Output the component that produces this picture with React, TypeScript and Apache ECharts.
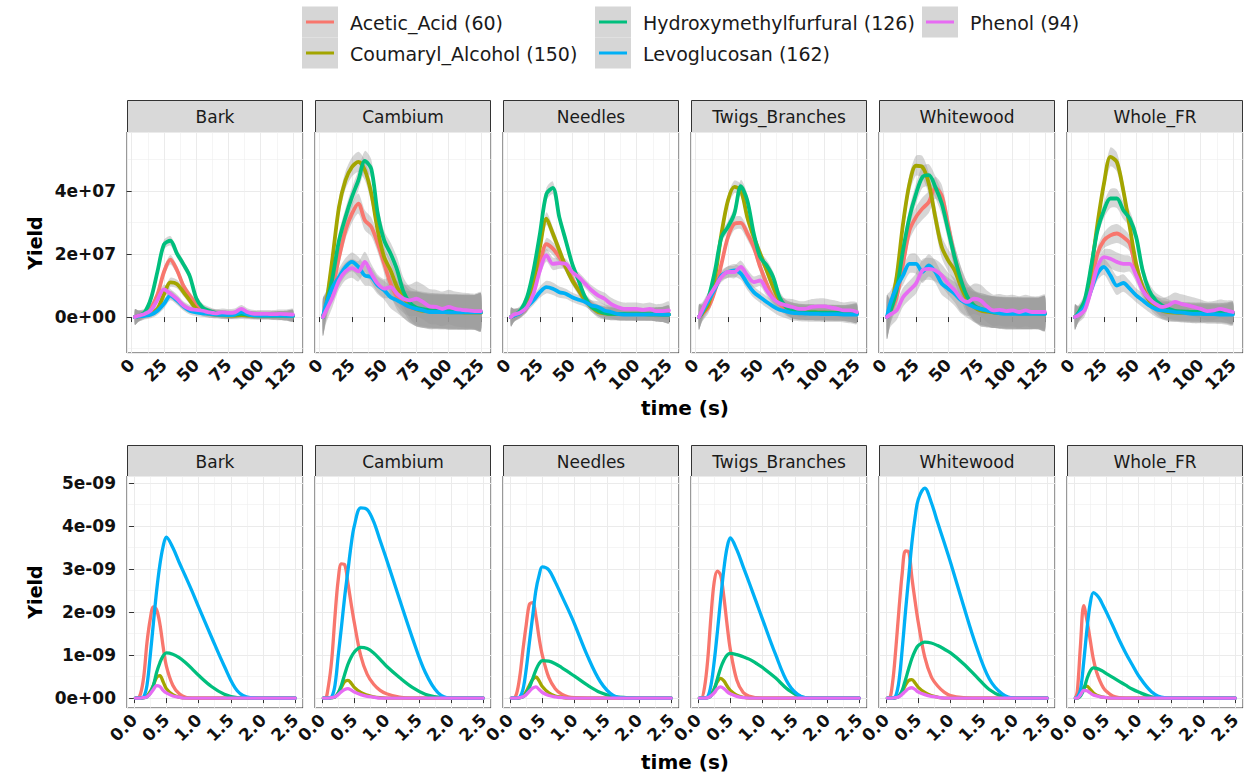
import React, { useEffect, useRef } from 'react';
import * as echarts from 'echarts';

// ---------- categories ----------
const COMPOUNDS = ['Acetic_Acid (60)', 'Coumaryl_Alcohol (150)', 'Hydroxymethylfurfural (126)', 'Levoglucosan (162)', 'Phenol (94)'];
const COLORS = ['#F8766D', '#A3A500', '#00BF7D', '#00B0F6', '#E76BF3'];
const TISSUES = ['Bark', 'Cambium', 'Needles', 'Twigs_Branches', 'Whitewood', 'Whole_FR'];

// ---------- top row: smoothed yields (units of 1e7), rows follow COMPOUNDS ----------
const TOP_UNIT = 1e7;
const TOP_TIME = [2.5, 5, 10, 15, 20, 25, 30, 35, 40, 45, 50, 55, 60, 65, 70, 75, 80, 85, 90, 95, 100, 105, 110, 115, 120, 125];

const TOP_BARK = [
  [0, 0.03, 0.1, 0.3, 0.72, 1.43, 1.82, 1.5, 1.0, 0.68, 0.42, 0.26, 0.16, 0.12, 0.1, 0.08, 0.08, 0.1, 0.08, 0.07, 0.06, 0.06, 0.05, 0.05, 0.05, 0.05],
  [0, 0.02, 0.06, 0.12, 0.26, 0.72, 1.1, 1.05, 0.8, 0.53, 0.27, 0.15, 0.1, 0.08, 0.06, 0.05, 0.05, 0.06, 0.05, 0.04, 0.04, 0.04, 0.04, 0.04, 0.03, 0.03],
  [0, 0.03, 0.15, 0.6, 1.45, 2.3, 2.42, 2.02, 1.68, 1.3, 0.6, 0.3, 0.2, 0.13, 0.1, 0.08, 0.08, 0.1, 0.08, 0.06, 0.05, 0.05, 0.05, 0.05, 0.05, 0.04],
  [0, 0.02, 0.04, 0.08, 0.2, 0.42, 0.68, 0.53, 0.34, 0.2, 0.15, 0.12, 0.1, 0.08, 0.07, 0.06, 0.08, 0.16, 0.08, 0.05, 0.05, 0.05, 0.05, 0.05, 0.04, 0.04],
  [0, 0.04, 0.1, 0.22, 0.55, 0.88, 0.74, 0.58, 0.37, 0.26, 0.23, 0.2, 0.15, 0.12, 0.15, 0.13, 0.15, 0.26, 0.15, 0.1, 0.1, 0.1, 0.09, 0.1, 0.09, 0.08],
];
const TOP_BARK_SE = [0.25, 0.18, 0.12, 0.12, 0.13, 0.15, 0.15, 0.14, 0.13, 0.12, 0.12, 0.12, 0.12, 0.12, 0.12, 0.12, 0.12, 0.12, 0.12, 0.12, 0.12, 0.12, 0.13, 0.14, 0.15, 0.18];

const TOP_CAMBIUM = [
  [0, 0.3, 0.95, 1.9, 2.75, 3.28, 3.6, 3.07, 2.86, 2.33, 1.69, 1.06, 0.63, 0.42, 0.3, 0.25, 0.22, 0.2, 0.2, 0.18, 0.18, 0.17, 0.16, 0.16, 0.15, 0.15],
  [0, 0.4, 1.9, 3.5, 4.34, 4.76, 4.92, 4.66, 3.92, 2.75, 1.9, 1.48, 0.95, 0.63, 0.35, 0.25, 0.2, 0.18, 0.17, 0.16, 0.15, 0.15, 0.15, 0.14, 0.14, 0.14],
  [0, 0.35, 1.27, 2.43, 3.17, 3.81, 4.34, 4.95, 4.7, 3.28, 2.43, 2.01, 1.5, 0.8, 0.45, 0.3, 0.25, 0.22, 0.2, 0.2, 0.18, 0.18, 0.17, 0.17, 0.16, 0.16],
  [0, 0.42, 0.95, 1.27, 1.59, 1.75, 1.59, 1.32, 1.27, 1.0, 0.85, 0.63, 0.53, 0.42, 0.32, 0.26, 0.21, 0.16, 0.16, 0.16, 0.15, 0.15, 0.15, 0.15, 0.15, 0.15],
  [0, 0.21, 0.63, 1.16, 1.45, 1.55, 1.45, 1.75, 1.38, 1.06, 0.9, 0.95, 0.74, 0.58, 0.53, 0.58, 0.48, 0.34, 0.32, 0.26, 0.32, 0.26, 0.23, 0.21, 0.19, 0.19],
];
const TOP_CAMBIUM_SE = [0.6, 0.4, 0.3, 0.28, 0.28, 0.3, 0.32, 0.32, 0.3, 0.28, 0.3, 0.35, 0.4, 0.45, 0.5, 0.55, 0.55, 0.55, 0.55, 0.55, 0.55, 0.55, 0.55, 0.55, 0.55, 0.6];

const TOP_NEEDLES = [
  [0, 0.05, 0.12, 0.32, 0.85, 1.69, 2.31, 2.17, 1.9, 1.59, 1.22, 0.85, 0.58, 0.37, 0.21, 0.15, 0.12, 0.1, 0.1, 0.1, 0.09, 0.09, 0.09, 0.09, 0.09, 0.09],
  [0, 0.05, 0.15, 0.42, 1.06, 2.22, 3.12, 2.65, 2.12, 1.59, 1.16, 0.85, 0.53, 0.32, 0.16, 0.12, 0.1, 0.1, 0.09, 0.09, 0.09, 0.09, 0.08, 0.08, 0.08, 0.08],
  [0, 0.05, 0.21, 0.63, 1.48, 2.65, 3.9, 4.1, 3.17, 2.43, 1.69, 1.16, 0.63, 0.32, 0.21, 0.13, 0.1, 0.1, 0.1, 0.09, 0.09, 0.09, 0.09, 0.09, 0.08, 0.08],
  [0, 0.05, 0.13, 0.32, 0.53, 0.79, 0.95, 0.9, 0.79, 0.74, 0.63, 0.55, 0.48, 0.37, 0.32, 0.21, 0.16, 0.1, 0.08, 0.08, 0.08, 0.08, 0.08, 0.08, 0.08, 0.08],
  [0, 0.08, 0.15, 0.32, 0.74, 1.48, 1.96, 1.69, 1.71, 1.69, 1.43, 1.27, 1.06, 0.85, 0.69, 0.58, 0.42, 0.32, 0.26, 0.26, 0.26, 0.23, 0.26, 0.19, 0.19, 0.21],
];
const TOP_NEEDLES_SE = [0.3, 0.2, 0.15, 0.15, 0.15, 0.18, 0.2, 0.2, 0.18, 0.16, 0.15, 0.15, 0.15, 0.16, 0.18, 0.2, 0.2, 0.2, 0.2, 0.2, 0.2, 0.2, 0.2, 0.22, 0.24, 0.28];

const TOP_TWIGS = [
  [0, 0.1, 0.32, 0.85, 1.69, 2.54, 2.96, 2.99, 2.65, 2.22, 1.59, 1.06, 0.63, 0.42, 0.26, 0.2, 0.17, 0.16, 0.16, 0.15, 0.15, 0.14, 0.14, 0.13, 0.13, 0.12],
  [0, 0.12, 0.42, 1.27, 2.65, 3.7, 4.13, 4.02, 3.17, 2.54, 2.01, 1.48, 0.95, 0.53, 0.32, 0.21, 0.17, 0.15, 0.15, 0.14, 0.14, 0.13, 0.13, 0.12, 0.12, 0.12],
  [0, 0.15, 0.63, 1.48, 2.54, 2.86, 3.28, 4.15, 3.7, 2.65, 1.9, 1.64, 1.27, 0.63, 0.32, 0.21, 0.16, 0.15, 0.15, 0.14, 0.14, 0.14, 0.13, 0.13, 0.12, 0.12],
  [0, 0.16, 0.53, 0.9, 1.32, 1.43, 1.48, 1.38, 1.06, 0.79, 0.63, 0.48, 0.34, 0.23, 0.18, 0.13, 0.12, 0.11, 0.1, 0.1, 0.09, 0.09, 0.09, 0.08, 0.08, 0.08],
  [0, 0.21, 0.63, 0.95, 1.27, 1.43, 1.43, 1.59, 1.32, 1.11, 1.16, 0.85, 0.58, 0.44, 0.37, 0.32, 0.26, 0.26, 0.32, 0.34, 0.34, 0.3, 0.26, 0.21, 0.21, 0.16],
];
const TOP_TWIGS_SE = [0.4, 0.25, 0.18, 0.16, 0.16, 0.18, 0.2, 0.2, 0.2, 0.18, 0.18, 0.18, 0.18, 0.2, 0.22, 0.25, 0.25, 0.25, 0.25, 0.25, 0.25, 0.25, 0.25, 0.25, 0.28, 0.3];

const TOP_WHITEWOOD = [
  [0, 0.16, 0.63, 1.69, 2.75, 3.17, 3.44, 3.65, 4.1, 3.85, 2.9, 1.9, 1.16, 0.63, 0.37, 0.21, 0.18, 0.16, 0.15, 0.14, 0.13, 0.13, 0.12, 0.12, 0.12, 0.12],
  [0, 0.2, 1.27, 2.96, 4.23, 4.8, 4.76, 4.23, 3.17, 2.22, 1.8, 1.48, 0.95, 0.53, 0.32, 0.21, 0.17, 0.15, 0.14, 0.13, 0.13, 0.12, 0.12, 0.12, 0.11, 0.11],
  [0, 0.16, 0.85, 2.12, 3.17, 3.9, 4.44, 4.5, 4.13, 3.6, 2.75, 1.9, 1.16, 0.63, 0.37, 0.26, 0.21, 0.15, 0.14, 0.13, 0.13, 0.12, 0.12, 0.12, 0.12, 0.11],
  [0, 0.42, 0.95, 1.32, 1.69, 1.69, 1.43, 1.64, 1.43, 1.06, 0.9, 0.74, 0.53, 0.42, 0.32, 0.26, 0.21, 0.16, 0.12, 0.1, 0.1, 0.1, 0.1, 0.1, 0.1, 0.1],
  [0, 0.08, 0.21, 0.63, 0.85, 1.06, 1.48, 1.53, 1.48, 1.32, 1.06, 0.85, 0.58, 0.48, 0.58, 0.53, 0.34, 0.21, 0.23, 0.19, 0.21, 0.16, 0.21, 0.16, 0.16, 0.16],
];
const TOP_WHITEWOOD_SE = [0.7, 0.4, 0.3, 0.3, 0.3, 0.32, 0.35, 0.35, 0.35, 0.35, 0.35, 0.38, 0.42, 0.45, 0.48, 0.5, 0.5, 0.5, 0.5, 0.5, 0.5, 0.5, 0.5, 0.5, 0.5, 0.55];

const TOP_WHOLE = [
  [0, 0.08, 0.32, 1.06, 2.01, 2.43, 2.59, 2.65, 2.54, 2.33, 1.48, 0.95, 0.63, 0.42, 0.26, 0.2, 0.18, 0.17, 0.16, 0.15, 0.15, 0.14, 0.14, 0.14, 0.13, 0.13],
  [0, 0.1, 0.42, 1.48, 2.96, 4.23, 5.08, 4.92, 4.02, 2.86, 1.69, 0.95, 0.53, 0.32, 0.21, 0.16, 0.14, 0.13, 0.13, 0.12, 0.12, 0.12, 0.12, 0.11, 0.11, 0.11],
  [0, 0.12, 0.53, 1.59, 2.75, 3.39, 3.76, 3.76, 3.39, 3.12, 2.54, 1.48, 0.85, 0.53, 0.37, 0.26, 0.2, 0.18, 0.17, 0.16, 0.16, 0.15, 0.15, 0.15, 0.14, 0.14],
  [0, 0.08, 0.32, 0.85, 1.38, 1.59, 1.32, 1.0, 1.08, 0.9, 0.69, 0.53, 0.37, 0.26, 0.21, 0.19, 0.16, 0.14, 0.12, 0.1, 0.1, 0.09, 0.09, 0.08, 0.08, 0.08],
  [0, 0.05, 0.21, 0.85, 1.59, 1.9, 1.85, 1.75, 1.69, 1.69, 1.32, 0.85, 0.58, 0.42, 0.32, 0.37, 0.48, 0.42, 0.37, 0.32, 0.26, 0.19, 0.21, 0.26, 0.21, 0.16],
];
const TOP_WHOLE_SE = [0.4, 0.25, 0.2, 0.2, 0.22, 0.25, 0.3, 0.3, 0.28, 0.25, 0.22, 0.22, 0.22, 0.25, 0.28, 0.3, 0.3, 0.3, 0.3, 0.3, 0.3, 0.3, 0.3, 0.3, 0.32, 0.35];

// ---------- bottom row: modelled yields (units of 1e-9), rows follow COMPOUNDS ----------
const BOT_UNIT = 1e-9;
const BOT_TIME = [0.02, 0.05, 0.1, 0.15, 0.2, 0.25, 0.3, 0.35, 0.4, 0.45, 0.5, 0.6, 0.7, 0.8, 0.9, 1.0, 1.2, 1.4, 1.6, 1.8, 2.0, 2.2, 2.5];

const BOT_BARK = [
  [0, 0, 0.1, 0.5, 1.29, 1.83, 2.12, 2.05, 1.72, 1.2, 0.75, 0.3, 0.1, 0.02, 0, 0, 0, 0, 0, 0, 0, 0, 0],
  [0, 0, 0, 0.01, 0.05, 0.15, 0.3, 0.48, 0.52, 0.38, 0.22, 0.08, 0.02, 0, 0, 0, 0, 0, 0, 0, 0, 0, 0],
  [0, 0, 0, 0.01, 0.03, 0.12, 0.3, 0.6, 0.82, 0.98, 1.05, 1.02, 0.94, 0.82, 0.68, 0.53, 0.27, 0.09, 0.01, 0, 0, 0, 0],
  [0, 0, 0, 0.03, 0.3, 0.98, 1.75, 2.5, 3.1, 3.52, 3.74, 3.5, 3.15, 2.82, 2.48, 2.12, 1.42, 0.74, 0.17, 0.01, 0, 0, 0],
  [0, 0, 0, 0.01, 0.03, 0.1, 0.2, 0.29, 0.27, 0.18, 0.12, 0.05, 0.02, 0, 0, 0, 0, 0, 0, 0, 0, 0, 0],
];
const BOT_CAMBIUM = [
  [0, 0, 0.3, 0.9, 1.9, 2.75, 3.12, 3.1, 2.68, 2.2, 1.75, 0.98, 0.55, 0.32, 0.18, 0.1, 0.02, 0, 0, 0, 0, 0, 0],
  [0, 0, 0, 0.01, 0.03, 0.12, 0.25, 0.38, 0.41, 0.35, 0.25, 0.13, 0.07, 0.03, 0.01, 0, 0, 0, 0, 0, 0, 0, 0],
  [0, 0, 0, 0.01, 0.03, 0.12, 0.3, 0.55, 0.78, 0.95, 1.07, 1.18, 1.15, 1.05, 0.9, 0.74, 0.48, 0.25, 0.09, 0.02, 0, 0, 0],
  [0, 0, 0, 0.03, 0.3, 0.98, 1.65, 2.35, 2.95, 3.55, 4.0, 4.42, 4.38, 4.1, 3.66, 3.22, 2.3, 1.4, 0.6, 0.12, 0, 0, 0],
  [0, 0, 0, 0.01, 0.03, 0.08, 0.15, 0.2, 0.22, 0.19, 0.14, 0.08, 0.04, 0.02, 0, 0, 0, 0, 0, 0, 0, 0, 0],
];
const BOT_NEEDLES = [
  [0, 0, 0.1, 0.5, 1.13, 1.7, 2.18, 2.22, 1.9, 1.4, 1.0, 0.48, 0.22, 0.09, 0.03, 0.01, 0, 0, 0, 0, 0, 0, 0],
  [0, 0, 0, 0.01, 0.05, 0.15, 0.3, 0.43, 0.49, 0.4, 0.27, 0.12, 0.05, 0.02, 0, 0, 0, 0, 0, 0, 0, 0, 0],
  [0, 0, 0, 0.01, 0.03, 0.1, 0.25, 0.45, 0.65, 0.8, 0.87, 0.86, 0.8, 0.71, 0.61, 0.51, 0.3, 0.13, 0.04, 0.01, 0, 0, 0],
  [0, 0, 0, 0.02, 0.2, 0.67, 1.3, 1.9, 2.5, 2.85, 3.05, 2.98, 2.7, 2.38, 2.06, 1.72, 0.98, 0.38, 0.06, 0, 0, 0, 0],
  [0, 0, 0, 0.01, 0.03, 0.08, 0.16, 0.23, 0.26, 0.2, 0.13, 0.06, 0.03, 0.01, 0, 0, 0, 0, 0, 0, 0, 0, 0],
];
const BOT_TWIGS = [
  [0, 0, 0.25, 0.9, 1.9, 2.7, 2.95, 2.85, 2.35, 1.7, 1.13, 0.42, 0.13, 0.04, 0.01, 0, 0, 0, 0, 0, 0, 0, 0],
  [0, 0, 0, 0.02, 0.08, 0.22, 0.38, 0.46, 0.4, 0.28, 0.18, 0.07, 0.02, 0, 0, 0, 0, 0, 0, 0, 0, 0, 0],
  [0, 0, 0, 0.01, 0.05, 0.2, 0.45, 0.7, 0.88, 1.0, 1.04, 1.01, 0.96, 0.9, 0.81, 0.71, 0.47, 0.19, 0.03, 0, 0, 0, 0],
  [0, 0, 0, 0.03, 0.3, 0.85, 1.55, 2.3, 3.0, 3.5, 3.72, 3.45, 3.05, 2.65, 2.24, 1.83, 1.02, 0.33, 0.04, 0, 0, 0, 0],
  [0, 0, 0, 0.01, 0.05, 0.12, 0.22, 0.26, 0.22, 0.15, 0.1, 0.04, 0.01, 0, 0, 0, 0, 0, 0, 0, 0, 0, 0],
];
const BOT_WHITEWOOD = [
  [0, 0, 0.35, 1.13, 2.06, 2.9, 3.42, 3.4, 2.8, 2.25, 1.75, 0.95, 0.5, 0.28, 0.14, 0.06, 0.01, 0, 0, 0, 0, 0, 0],
  [0, 0, 0, 0.01, 0.05, 0.15, 0.3, 0.41, 0.43, 0.35, 0.25, 0.13, 0.06, 0.02, 0, 0, 0, 0, 0, 0, 0, 0, 0],
  [0, 0, 0, 0.01, 0.05, 0.18, 0.42, 0.68, 0.92, 1.1, 1.22, 1.3, 1.28, 1.22, 1.14, 1.05, 0.8, 0.5, 0.2, 0.04, 0, 0, 0],
  [0, 0, 0, 0.05, 0.4, 1.13, 2.0, 2.8, 3.6, 4.2, 4.62, 4.88, 4.55, 4.08, 3.62, 3.15, 2.15, 1.2, 0.45, 0.1, 0, 0, 0],
  [0, 0, 0, 0.01, 0.03, 0.09, 0.16, 0.22, 0.24, 0.2, 0.14, 0.08, 0.04, 0.02, 0, 0, 0, 0, 0, 0, 0, 0, 0],
];
const BOT_WHOLE = [
  [0, 0.15, 1.25, 2.15, 1.8, 1.35, 0.9, 0.6, 0.4, 0.25, 0.16, 0.05, 0.01, 0, 0, 0, 0, 0, 0, 0, 0, 0, 0],
  [0, 0, 0.08, 0.25, 0.28, 0.2, 0.12, 0.07, 0.04, 0.02, 0.01, 0, 0, 0, 0, 0, 0, 0, 0, 0, 0, 0, 0],
  [0, 0, 0.05, 0.2, 0.45, 0.63, 0.7, 0.69, 0.66, 0.62, 0.57, 0.48, 0.39, 0.3, 0.21, 0.14, 0.03, 0, 0, 0, 0, 0, 0],
  [0, 0.02, 0.2, 0.85, 1.6, 2.2, 2.45, 2.4, 2.3, 2.15, 2.0, 1.68, 1.35, 1.05, 0.78, 0.52, 0.15, 0.01, 0, 0, 0, 0, 0],
  [0, 0, 0.08, 0.18, 0.17, 0.12, 0.07, 0.05, 0.03, 0.02, 0.01, 0, 0, 0, 0, 0, 0, 0, 0, 0, 0, 0, 0],
];

const TOP_SETS = [TOP_BARK, TOP_CAMBIUM, TOP_NEEDLES, TOP_TWIGS, TOP_WHITEWOOD, TOP_WHOLE];
const TOP_SE_SETS = [TOP_BARK_SE, TOP_CAMBIUM_SE, TOP_NEEDLES_SE, TOP_TWIGS_SE, TOP_WHITEWOOD_SE, TOP_WHOLE_SE];
const BOT_SETS = [BOT_BARK, BOT_CAMBIUM, BOT_NEEDLES, BOT_TWIGS, BOT_WHITEWOOD, BOT_WHOLE];

// ---------- layout ----------
const FONT = '"DejaVu Sans", "Liberation Sans", sans-serif';
const PANEL_LEFT = [127, 315, 503, 691, 879, 1067];
const PANEL_W = 176;
const LEGEND_COL_X = [302, 595, 922];
const LEGEND_ROW_Y = [22, 53];
const LEGEND_SLOT = [[0, 0], [0, 1], [1, 0], [1, 1], [2, 0]];

function sci(v: number): string {
  if (Math.abs(v) < 1e-30) return '0e+00';
  const s = v.toExponential(0);
  const parts = s.split('e');
  const sign = parts[1][0];
  const digits = parts[1].slice(1).padStart(2, '0');
  return parts[0] + 'e' + sign + digits;
}

// ribbon (confidence band) drawn as one polygon through the axis scales
function ribbonRenderItem(params: any, api: any) {
  if (params.dataIndexInside !== 0) return null;
  const n = params.dataInsideLength;
  const upper: number[][] = [];
  const lower: number[][] = [];
  for (let k = 0; k < n; k++) {
    const x = api.value(0, k);
    upper.push(api.coord([x, api.value(2, k)]));
    lower.push(api.coord([x, api.value(1, k)]));
  }
  const pts = upper.concat(lower.reverse());
  const cs = params.coordSys;
  return {
    type: 'polygon',
    shape: { points: pts, smooth: 0.25 },
    style: { fill: 'rgba(153,153,153,0.4)', stroke: 'none' },
    clipPath: { type: 'rect', shape: { x: cs.x, y: cs.y, width: cs.width, height: cs.height } },
    silent: true,
  };
}

function buildOption() {
  const grid: any[] = [];
  const xAxis: any[] = [];
  const yAxis: any[] = [];
  const series: any[] = [];
  const graphic: any[] = [];

  const rows = [
    {
      time: TOP_TIME, unit: TOP_UNIT, sets: TOP_SETS, se: TOP_SE_SETS,
      stripTop: 100, stripH: 32, gridTop: 132, gridH: 221,
      xMin: -3.64, xMax: 132.8, xStep: 25, yMin: -1.14e7, yMax: 5.87e7, yStep: 2e7,
      xFmt: (v: number) => String(Math.round(v)), smooth: 0.3, lw: 3.8, titleY: 408, yTitleY: 243,
    },
    {
      time: BOT_TIME, unit: BOT_UNIT, sets: BOT_SETS, se: null as any,
      stripTop: 445, stripH: 31, gridTop: 476, gridH: 232,
      xMin: -0.11, xMax: 2.62, xStep: 0.5, yMin: -0.23e-9, yMax: 5.16e-9, yStep: 1e-9,
      xFmt: (v: number) => v.toFixed(1), smooth: 0.35, lw: 3.3, titleY: 762, yTitleY: 592,
    },
  ];

  rows.forEach((row) => {
    TISSUES.forEach((tissue, p) => {
      const gi = grid.length;
      const left = PANEL_LEFT[p];
      grid.push({
        left, top: row.gridTop, width: PANEL_W, height: row.gridH,
        show: true, backgroundColor: '#ffffff', borderColor: '#333333', borderWidth: 1,
        containLabel: false, outerBoundsMode: 'none',
      });
      const gridLine = { show: true, lineStyle: { color: '#EBEBEB', width: 1 } };
      const minorLine = { show: true, lineStyle: { color: '#EFEFEF', width: 0.6 } };
      xAxis.push({
        gridIndex: gi, type: 'value', min: row.xMin, max: row.xMax,
        minInterval: row.xStep, maxInterval: row.xStep, splitNumber: 5,
        axisLine: { show: false },
        axisTick: { show: true, length: 5, lineStyle: { color: '#333333', width: 1 } },
        axisLabel: {
          show: true, rotate: 45, margin: 9, fontFamily: FONT, fontSize: 17, fontWeight: 'bold',
          color: '#111111', showMinLabel: false, showMaxLabel: false, formatter: row.xFmt,
        },
        splitLine: gridLine,
        minorTick: { show: false, splitNumber: 2 },
        minorSplitLine: minorLine,
      });
      yAxis.push({
        gridIndex: gi, type: 'value', min: row.yMin, max: row.yMax,
        minInterval: row.yStep, maxInterval: row.yStep, splitNumber: 4,
        axisLine: { show: false },
        axisTick: { show: p === 0, length: 5, lineStyle: { color: '#333333', width: 1 } },
        axisLabel: {
          show: p === 0, margin: 11, fontFamily: FONT, fontSize: 17, fontWeight: 'bold',
          color: '#111111', showMinLabel: false, showMaxLabel: false, formatter: (v: number) => sci(v),
        },
        splitLine: gridLine,
        minorTick: { show: false, splitNumber: 2 },
        minorSplitLine: minorLine,
      });

      const set = row.sets[p];
      const se = row.se ? row.se[p] : null;
      COMPOUNDS.forEach((name, c) => {
        const vals = set[c];
        if (se) {
          series.push({
            type: 'custom', xAxisIndex: gi, yAxisIndex: gi, silent: true,
            data: row.time.map((t, k) => [t, (vals[k] - se[k]) * row.unit, (vals[k] + se[k]) * row.unit]),
            encode: { x: 0, y: [1, 2] },
            renderItem: ribbonRenderItem,
          });
        }
        series.push({
          name, type: 'line', xAxisIndex: gi, yAxisIndex: gi,
          data: row.time.map((t, k) => [t, vals[k] * row.unit]),
          smooth: row.smooth, symbol: 'none', silent: true,
          lineStyle: { color: COLORS[c], width: row.lw, cap: 'round', join: 'round' },
          itemStyle: { color: COLORS[c] },
        });
      });

      // strip
      graphic.push({
        type: 'rect', silent: true,
        shape: { x: left + 0.5, y: row.stripTop + 0.5, width: PANEL_W - 1, height: row.stripH },
        style: { fill: '#D9D9D9', stroke: '#333333', lineWidth: 1 },
      });
      graphic.push({
        type: 'text', silent: true, x: left + PANEL_W / 2, y: row.stripTop + row.stripH / 2 + 1,
        style: {
          text: tissue, fill: '#1A1A1A', fontFamily: FONT, fontSize: 17,
          align: 'center', verticalAlign: 'middle',
        },
      });
    });

    // axis titles
    graphic.push({
      type: 'text', silent: true, x: 35, y: row.yTitleY, rotation: Math.PI / 2,
      style: {
        text: 'Yield', fill: '#000000', fontFamily: FONT, fontSize: 19, fontWeight: 'bold',
        align: 'center', verticalAlign: 'middle',
      },
    });
    graphic.push({
      type: 'text', silent: true, x: (PANEL_LEFT[0] + PANEL_LEFT[5] + PANEL_W) / 2, y: row.titleY,
      style: {
        text: 'time (s)', fill: '#000000', fontFamily: FONT, fontSize: 20, fontWeight: 'bold',
        align: 'center', verticalAlign: 'middle',
      },
    });
  });

  // legend
  COMPOUNDS.forEach((name, c) => {
    const [col, rw] = LEGEND_SLOT[c];
    const x = LEGEND_COL_X[col];
    const y = LEGEND_ROW_Y[rw];
    graphic.push({
      type: 'rect', silent: true,
      shape: { x, y: y - 15.5, width: 36, height: 31 },
      style: { fill: '#D6D6D6' },
    });
    graphic.push({
      type: 'line', silent: true,
      shape: { x1: x + 4, y1: y, x2: x + 32, y2: y },
      style: { stroke: COLORS[c], lineWidth: 3 },
    });
    graphic.push({
      type: 'text', silent: true, x: x + 48, y: y + 1,
      style: {
        text: name, fill: '#1A1A1A', fontFamily: FONT, fontSize: 19,
        align: 'left', verticalAlign: 'middle',
      },
    });
  });

  return {
    animation: false,
    backgroundColor: '#ffffff',
    textStyle: { fontFamily: FONT },
    grid, xAxis, yAxis, series, graphic,
  };
}

export default function App() {
  const ref = useRef<HTMLDivElement>(null);
  useEffect(() => {
    if (!ref.current) return;
    const chart = echarts.init(ref.current, undefined, { renderer: 'svg' });
    chart.setOption(buildOption() as any);
    return () => chart.dispose();
  }, []);
  return (
    <div
      ref={ref}
      style={{ position: 'absolute', left: 0, top: 0, width: 1250, height: 774, background: '#ffffff' }}
    />
  );
}
